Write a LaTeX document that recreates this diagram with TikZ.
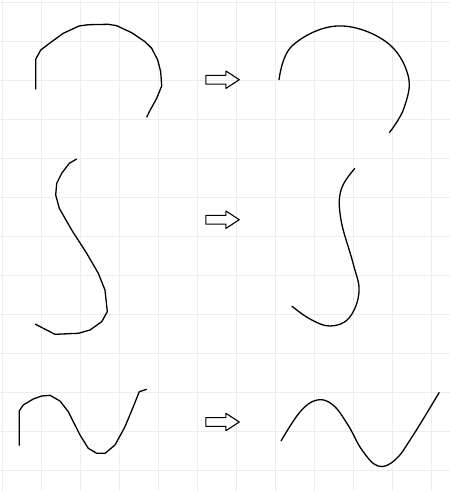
\documentclass[tikz,border=0pt]{standalone}
\begin{document}
\begin{tikzpicture}[x=1pt, y=-1pt, line join=round,
    gridline/.style={gray!14, line width=0.8pt},
    stroke/.style={black, line width=1.3pt},
    blockarrow/.pic={
        \draw[black, line width=1.1pt] (-16.7,-4.4) -- (3.3,-4.4) -- (3.3,-8.7) -- (16.7,0)
            -- (3.3,8.7) -- (3.3,4.4) -- (-16.7,4.4) -- cycle;
    }]
    \useasboundingbox (0,0) rectangle (450,491);
    \fill[white] (0,0) rectangle (450,491);

    % Background grid
    \foreach \g in {2,41,...,450} {
        \draw[gridline] (\g,0) -- (\g,491);
    }
    \foreach \g in {2,41,...,491} {
        \draw[gridline] (0,\g) -- (450,\g);
    }

    % Row 1: arc
    \draw[stroke] (35.7,89.3) -- (35.7,59.3) -- (40.7,50) -- (51.7,41.7) -- (63.3,33.3)
        -- (79,26) -- (88.3,24.7) -- (108.3,24.3) -- (116.7,25.7) -- (131.7,32.7)
        -- (145,41.7) -- (151.7,48.3) -- (157.7,60) -- (160.7,71.7) -- (161.7,86)
        -- (156.7,98.3) -- (149,112.3) -- (146.7,117.3);
    \pic (arrA) at (222.6,79.7) {blockarrow};
    \draw[stroke] plot[smooth, tension=0.65] coordinates {(279,80) (292,46) (337,26)
        (385,41) (408,75) (404,108) (389.3,132.7)};

    % Row 2: S-curve
    \draw[stroke] (76.7,159) -- (69.3,163.3) -- (61.7,173.3) -- (56.7,183.3) -- (55.7,195)
        -- (59.3,208.3) -- (71.7,230) -- (86.7,253.3) -- (98.3,273.3) -- (105,290)
        -- (107.3,311.7) -- (101.7,321.7) -- (90,330) -- (78.3,333.3) -- (55,334.3)
        -- (35,324);
    \pic (arrB) at (222.6,219.7) {blockarrow};
    \draw[stroke] plot[smooth, tension=0.65] coordinates {(355,168.3) (341,190) (341,220)
        (353,263) (359,292) (349,318) (330,326) (310,319) (291.7,306)};

    % Row 3: wave
    \draw[stroke] (19.3,445.7) -- (19.3,410.7) -- (23.3,405) -- (33.3,399) -- (41.7,396)
        -- (50,395.3) -- (60,401) -- (68.3,411.7) -- (80,435) -- (88.3,448.3)
        -- (96.7,453.3) -- (105,453.3) -- (115,445) -- (125,426.7) -- (133.3,406.7)
        -- (139.3,391.7) -- (146.7,389.3);
    \pic (arrC) at (222.6,422) {blockarrow};
    \draw[stroke] plot[smooth, tension=0.65] coordinates {(281,441) (300,412) (317,400)
        (333,405) (348,425) (362,450) (378,466) (395,460) (412,437) (439.3,392.3)};
\end{tikzpicture}
\end{document}
